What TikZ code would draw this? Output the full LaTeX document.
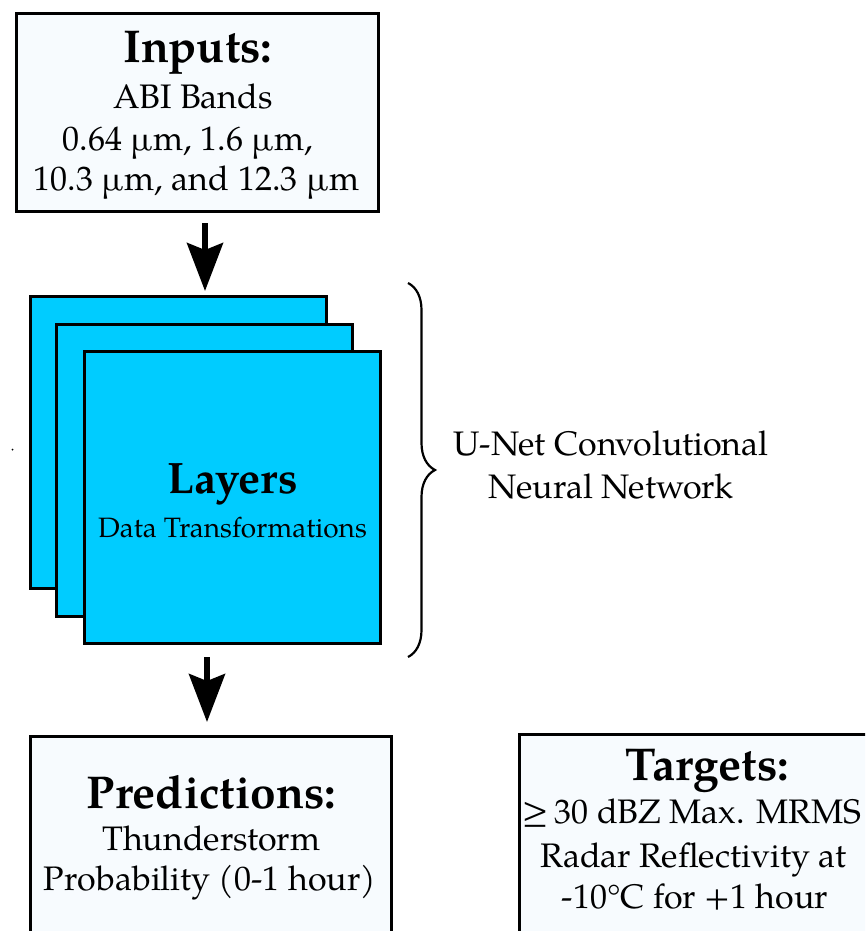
\documentclass[tikz,border=0pt]{standalone}
\usepackage{fontspec}
\setmainfont{TeX Gyre Pagella}
\usetikzlibrary{arrows.meta,decorations.pathreplacing}
\definecolor{boxfill}{HTML}{F7FBFE}
\definecolor{laycyan}{HTML}{00CCFF}
\begin{document}
\begin{tikzpicture}[x=1pt,y=-1pt,
  box/.style={draw=black, line width=3pt, fill=boxfill, inner sep=0pt},
  layer/.style={draw=black, line width=3pt, fill=laycyan, minimum width=296pt, minimum height=292pt, inner sep=0pt},
  ttl/.style={anchor=base, inner sep=0pt, font=\fontsize{46}{50}\selectfont\bfseries},
  bdy/.style={anchor=base, inner sep=0pt, font=\fontsize{34}{40}\selectfont},
  arr/.style={line width=5.5pt, -{Stealth[width=36pt,length=48pt,inset=7pt]}},
]
\path[use as bounding box, clip] (0,0) rectangle (865,931);
% boxes
\node[box, minimum width=362pt, minimum height=198pt] (inputs) at (197.5,112.5) {};
\node[box, minimum width=361pt, minimum height=230pt] (preds) at (211,851.5) {};
\node[box, minimum width=380pt, minimum height=230pt] (targets) at (709.5,849.5) {};
% layers
\node[layer] (lay1) at (178,442.5) {};
\node[layer] (lay2) at (204.5,470) {};
\node[layer] (lay3) at (232.5,497.5) {};
% texts
\node[ttl] (tin) at (198,63) {Inputs:};
\node[bdy] (tin1) at (193,109) {ABI Bands};
\node[bdy] (tin2) at (188,150) {0.64 µm, 1.6 µm,};
\node[bdy] (tin3) at (196.5,190) {10.3 µm, and 12.3 µm};
\node[ttl, font=\fontsize{44}{48}\selectfont\bfseries] (tlay) at (233,493) {Layers};
\node[bdy, font=\fontsize{28}{34}\selectfont] (tlay1) at (232.5,537) {Data Transformations};
\node[bdy] (tun1) at (611,455) {U-Net Convolutional};
\node[bdy] (tun2) at (611,498) {Neural Network};
\node[ttl] (tpr) at (211.5,808) {Predictions:};
\node[bdy] (tpr1) at (211.5,850) {Thunderstorm};
\node[bdy] (tpr2) at (210,890) {Probability (0-1 hour)};
\node[ttl] (tta) at (707,780) {Targets:};
\node[bdy] (tta1) at (692,823) {≥\,30 dBZ Max. MRMS};
\node[bdy] (tta2) at (693.5,867) {Radar Reflectivity at};
\node[bdy] (tta3) at (695,908) {-10°C for +1 hour};
% arrows
\draw[arr] ([xshift=7.5pt,yshift=-10pt]inputs.south) -- ([xshift=27pt,yshift=4pt]lay1.north);
\draw[arr] ([xshift=-25.5pt,yshift=-12pt]lay3.south) -- ([xshift=-4pt,yshift=13pt]preds.north);
% brace
\coordinate (btop) at (408,283);
\coordinate (bbot) at (408,657);
\draw[line width=2.2pt, decorate, decoration={brace, amplitude=27pt}] (btop) -- (bbot);
% stray mark
\fill (12.5,449.5) circle (1pt);
\end{tikzpicture}
\end{document}
